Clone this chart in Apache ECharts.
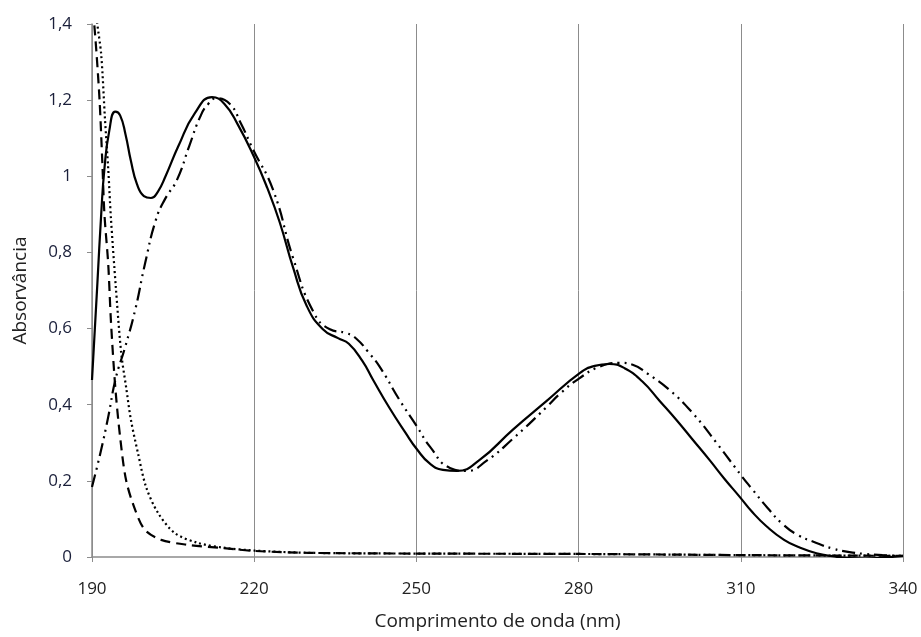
<!DOCTYPE html>
<html>
<head>
<meta charset="utf-8">
<script src="https://cdn.jsdelivr.net/npm/echarts@6/dist/echarts.min.js"></script>
<style>
  html, body { margin: 0; padding: 0; background: #fff; }
  #chart { width: 921px; height: 637px; }
</style>
</head>
<body>
<div id="chart"></div>
<script>
// espectros de absorção UV
var xTicks = [190, 220, 250, 280, 310, 340];
var yTicks = [0, 0.2, 0.4, 0.6, 0.8, 1, 1.2, 1.4];

// linha contínua
var solidData = [[190,0.465],[191,0.72],[191.7,0.9],[192.3,1.02],[193.2,1.12],[194.3,1.17],[195.2,1.16],
  [196.2,1.11],[197.2,1.04],[198.3,0.98],[199.6,0.948],[200.9,0.943],[202.2,0.96],[203.6,1.0],[206,1.08],
  [209,1.165],[212.2,1.208],[214.5,1.19],[217,1.135],[220,1.05],[222.4,0.97],[224.7,0.88],[227.2,0.76],
  [229.7,0.66],[232.7,0.598],[235.5,0.575],[237.5,0.56],[240,0.515],[242,0.465],[245,0.392],[248,0.326],
  [250.1,0.283],[252.5,0.245],[254.9,0.229],[257.5,0.226],[261.7,0.255],[267.8,0.334],[274.1,0.41],
  [280.2,0.483],[283,0.502],[285.7,0.507],[288.5,0.496],[291.8,0.461],[295,0.41],[298.1,0.36],[301,0.31],
  [304.2,0.255],[307,0.205],[309.8,0.158],[312,0.12],[314.8,0.08],[318,0.045],[320.9,0.025],[324,0.01],
  [327,0.002],[330,-0.003],[333,-0.004],[336,-0.002],[340,0.003]];

// traço-ponto-ponto
var dashDotData = [[190,0.184],[191.5,0.27],[193,0.368],[194.4,0.47],[196.1,0.55],[198,0.65],[199.8,0.77],
  [201.8,0.885],[203.5,0.94],[205.7,0.99],[208,1.08],[210,1.156],[211.5,1.19],[213.1,1.205],[215.5,1.19],
  [217.5,1.14],[219.8,1.07],[223.5,0.964],[227.2,0.785],[230.9,0.645],[234,0.598],[237.1,0.588],[239,0.572],
  [241,0.54],[243.2,0.5],[246.9,0.412],[250,0.345],[252.5,0.29],[256.2,0.234],[259.3,0.226],[263,0.253],
  [267.8,0.31],[274.1,0.394],[276.5,0.428],[280.2,0.47],[283.9,0.5],[287.6,0.51],[290,0.505],[292.6,0.483],
  [296.8,0.439],[301.1,0.378],[305.5,0.3],[310.3,0.21],[312,0.18],[315,0.128],[317.7,0.087],[320.5,0.058],
  [324,0.037],[327,0.022],[330.1,0.013],[333,0.008],[336.2,0.005],[340,0.003]];

// tracejada
var dashedData = [[190,1.48],[190.3,1.42],[190.8,1.33],[191.4,1.2],[191.9,1.04],[192.3,0.9],[193,0.77],
  [193.5,0.62],[194.3,0.447],[195.2,0.315],[196.3,0.202],[198,0.123],[199.8,0.071],[202.8,0.045],
  [207.7,0.032],[213.8,0.024],[220,0.016],[230,0.011],[250,0.009],[280,0.008],[310,0.005],[340,0.003]];

// pontilhada
var dottedData = [[190,1.55],[190.9,1.41],[191.7,1.32],[192.4,1.15],[193,1.02],[193.5,0.89],[194.4,0.71],
  [195.4,0.536],[196.3,0.447],[197.2,0.36],[198.5,0.273],[200,0.184],[202.2,0.116],[205.3,0.063],
  [209.6,0.037],[214.6,0.024],[220,0.017],[230,0.011],[250,0.009],[280,0.008],[310,0.005],[340,0.003]];

var chart = echarts.init(document.getElementById('chart'));

function mkSeries(data, type, smooth) {
  return {
    type: 'line',
    data: data,
    smooth: smooth,
    showSymbol: false,
    clip: true,
    lineStyle: { color: '#000', width: 2.2, type: type }
  };
}

var fontFam = '"Open Sans", sans-serif';

chart.setOption({
  animation: false,
  grid: { left: 92, right: 18, top: 24, bottom: 80 },
  xAxis: {
    type: 'value',
    min: xTicks[0],
    max: xTicks[xTicks.length - 1],
    interval: 30,
    name: 'Comprimento de onda (nm)',
    nameLocation: 'middle',
    nameGap: 55,
    nameTextStyle: { fontFamily: fontFam, fontSize: 19, color: '#222' },
    axisLine: { lineStyle: { color: '#8c8c8c', width: 1.5 } },
    axisTick: { show: true, length: 5, lineStyle: { color: '#8c8c8c' } },
    axisLabel: { margin: 24, fontFamily: fontFam, fontSize: 17, color: '#222' },
    splitLine: { show: true, lineStyle: { color: '#8c8c8c', width: 1 } }
  },
  yAxis: {
    type: 'value',
    min: yTicks[0],
    max: yTicks[yTicks.length - 1],
    interval: 0.2,
    name: 'Absorvância',
    nameLocation: 'middle',
    nameGap: 62,
    nameTextStyle: { fontFamily: fontFam, fontSize: 19, color: '#222' },
    axisLine: { show: true, lineStyle: { color: '#8c8c8c', width: 1.5 } },
    axisTick: { show: true, length: 5, lineStyle: { color: '#8c8c8c' } },
    axisLabel: {
      margin: 20, fontFamily: fontFam, fontSize: 17, color: '#1a1f3a',
      formatter: function (v) { return String(Math.round(v * 10) / 10).replace('.', ','); }
    },
    splitLine: { show: false }
  },
  series: [
    mkSeries(solidData, 'solid', 0.5),
    mkSeries(dashDotData, [13, 5, 2, 5, 2, 5], 0.5),
    mkSeries(dashedData, [10, 6], 0.3),
    mkSeries(dottedData, [2, 3], 0.3)
  ]
});
</script>
</body>
</html>
